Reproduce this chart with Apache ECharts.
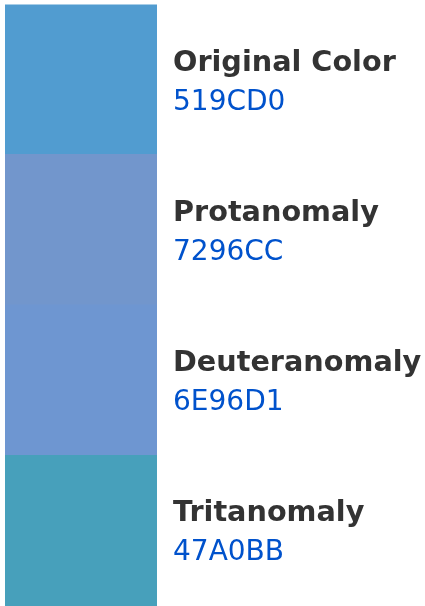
<!DOCTYPE html>
<html>
<head>
<meta charset="utf-8">
<style>html,body{margin:0;padding:0;background:#fff;}#c{width:425px;height:606px;}</style>
<script src="https://cdn.jsdelivr.net/npm/echarts@6/dist/echarts.min.js"></script>
</head>
<body>
<div id="c"></div>
<script>
const names = ['Original Color', 'Protanomaly', 'Deuteranomaly', 'Tritanomaly'];
const hexCodes = ['519CD0', '7296CC', '6E96D1', '47A0BB'];
const values = [1, 1, 1, 1];

const chart = echarts.init(document.getElementById('c'), null, {renderer: 'canvas'});
chart.setOption({
  animation: false,
  backgroundColor: '#ffffff',
  grid: {left: 5, top: 4.4, width: 152, height: 604, containLabel: false},
  xAxis: {type: 'value', min: 0, max: 1, show: false},
  yAxis: {type: 'category', data: names, inverse: true, show: false},
  series: [{
    type: 'bar',
    barWidth: 151.8,
    data: values.map((v, i) => ({value: v, itemStyle: {color: '#' + hexCodes[i]}})),
    label: {
      show: true,
      position: 'right',
      distance: 16,
      align: 'left',
      offset: [0, 3],
      formatter: p => '{a|' + names[p.dataIndex] + '}\n{b|' + hexCodes[p.dataIndex] + '}',
      rich: {
        a: {fontFamily: 'DejaVu Sans', fontSize: 28.7, fontWeight: 'bold', color: '#333333', lineHeight: 39},
        b: {fontFamily: 'DejaVu Sans', fontSize: 28, color: '#0052cc', lineHeight: 39}
      }
    }
  }]
});
</script>
</body>
</html>
